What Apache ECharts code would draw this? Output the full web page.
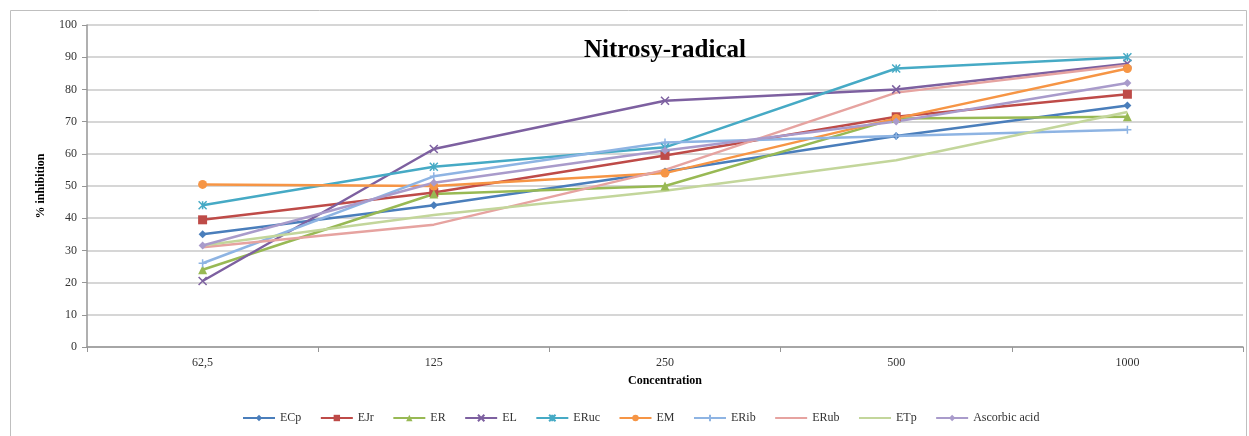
<!DOCTYPE html>
<html><head><meta charset="utf-8">
<script src="https://cdn.jsdelivr.net/npm/echarts@6/dist/echarts.min.js"></script>
<style>html,body{margin:0;padding:0;background:#fff}#c{width:1249px;height:436px}</style>
</head><body><div id="c"></div>
<script>
const categories = ['62,5', '125', '250', '500', '1000'];
const ECp = [35, 44, 54.5, 65.5, 75];
const EJr = [39.5, 48, 59.5, 71.5, 78.5];
const ER = [24, 47.5, 50, 71, 71.5];
const EL = [20.5, 61.5, 76.5, 80, 88];
const ERuc = [44, 56, 62, 86.5, 90];
const EM = [50.5, 50, 54, 71, 86.5];
const ERib = [26, 53, 63.5, 65.5, 67.5];
const ERub = [31, 38, 55, 79, 87.5];
const ETp = [31.5, 41, 48.5, 58, 73];
const Ascorbic = [31.5, 51, 61, 70, 82];
const yTicks = [0, 10, 20, 30, 40, 50, 60, 70, 80, 90, 100];

const defs = [
  ['ECp', ECp, '#4A7EBB', 'diamond', 8],
  ['EJr', EJr, '#BE4B48', 'rect', 9],
  ['ER', ER, '#98B954', 'triangle', 9],
  ['EL', EL, '#7D60A0', 'path://M0,0L10,10M10,0L0,10', 8],
  ['ERuc', ERuc, '#46AAC5', 'path://M0,0L10,10M10,0L0,10M5,0L5,10', 8],
  ['EM', EM, '#F69545', 'circle', 9],
  ['ERib', ERib, '#8EB4E3', 'path://M5,0L5,10M0,5L10,5', 8],
  ['ERub', ERub, '#E6A3A0', 'none', 0],
  ['ETp', ETp, '#C3D69B', 'none', 0],
  ['Ascorbic acid', Ascorbic, '#A99BCB', 'diamond', 8]
];

const chart = echarts.init(document.getElementById('c'));
chart.setOption({
  animation: false,
  backgroundColor: '#fff',
  graphic: [{type:'rect', shape:{x:10.5,y:10.5,width:1236,height:440}, style:{fill:'none', stroke:'#bfbfbf', lineWidth:1}, silent:true}],
  title: {text:'Nitrosy-radical', left:660, top:33, textAlign:'center',
    textStyle:{fontFamily:'Liberation Serif', fontWeight:'bold', fontSize:25, color:'#000'}},
  grid: {left:87, right:6, top:25, bottom:89},
  legend: {bottom:7, left:237, itemWidth:32, itemHeight:8, itemGap:18.5,
    textStyle:{fontFamily:'Liberation Serif', fontSize:12, color:'#333'},
    data: defs.map(d => d[3] === 'none' ? {name:d[0], itemStyle:{opacity:0}} : d[0])},
  xAxis: {type:'category', data:categories, boundaryGap:true,
    name:'Concentration', nameLocation:'middle', nameGap:28,
    nameTextStyle:{fontFamily:'Liberation Serif', fontWeight:'bold', fontSize:12, color:'#000'},
    axisLine:{lineStyle:{color:'#969696', width:1.5}},
    axisTick:{show:true, length:5, lineStyle:{color:'#969696'}},
    axisLabel:{fontFamily:'Liberation Serif', fontSize:12, color:'#333', margin:10}},
  yAxis: {type:'value', min:0, max:100, interval:10,
    name:'% inhibition', nameLocation:'middle', nameGap:40, nameRotate:90,
    nameTextStyle:{fontFamily:'Liberation Serif', fontWeight:'bold', fontSize:12, color:'#000'},
    axisLine:{show:true, lineStyle:{color:'#969696', width:1.5}},
    axisTick:{show:true, length:5, lineStyle:{color:'#969696'}},
    splitLine:{lineStyle:{color:'#c8c8c8', width:1.5}},
    axisLabel:{fontFamily:'Liberation Serif', fontSize:12, color:'#333', margin:10,
      formatter: v => yTicks.includes(v) ? String(v) : ''}},
  series: defs.map(d => ({
    name:d[0], type:'line', data:d[1], symbol:d[3], symbolSize:d[4],
    showSymbol: d[3] !== 'none',
    lineStyle:{color:d[2], width:2.5},
    itemStyle:{color:d[2], borderColor:d[2], borderWidth: d[3].startsWith('path') ? 1.5 : 0}
  }))
});
</script></body></html>
